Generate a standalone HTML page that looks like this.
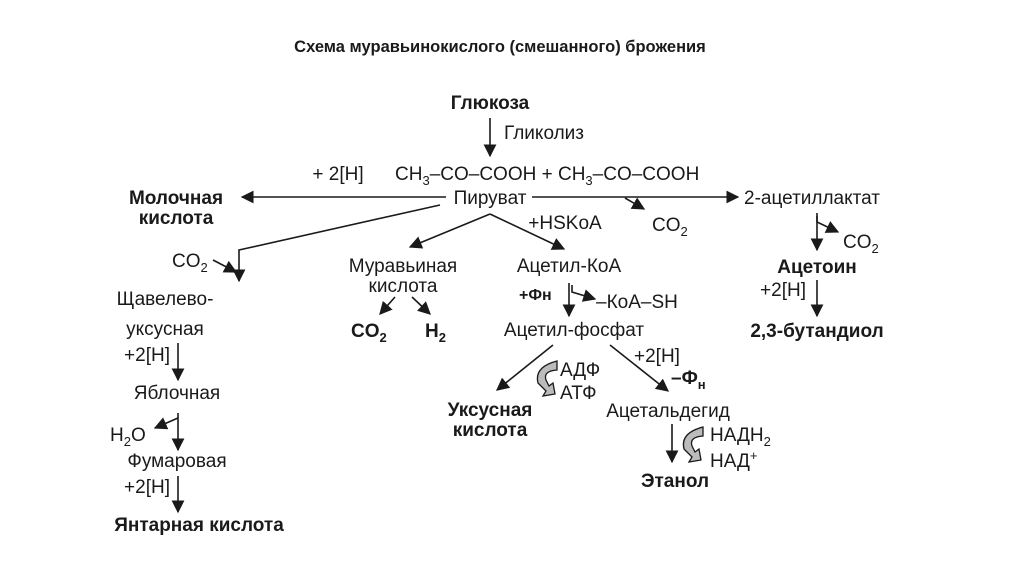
<!DOCTYPE html>
<html><head><meta charset="utf-8"><style>
html,body{margin:0;padding:0;background:#fff;}
svg{display:block;}
text{font-family:"Liberation Sans",Arial,sans-serif;font-size:19px;fill:#1a1a1a;}
.b{font-weight:bold;}
.s{font-size:13px;}
</style></head><body>
<svg width="1024" height="574" viewBox="0 0 1024 574" xmlns="http://www.w3.org/2000/svg">
<defs>
<marker id="A" viewBox="0 0 10 10" refX="9" refY="5" markerWidth="13" markerHeight="13" markerUnits="userSpaceOnUse" orient="auto"><path d="M0,0 L10,5 L0,10 z" fill="#1a1a1a"/></marker>
</defs>
<text x="500" y="52" class="b" text-anchor="middle" style="font-size:16.5px">Схема муравьинокислого (смешанного) брожения</text>

<g stroke="#1a1a1a" stroke-width="1.6" fill="none">
<line x1="490" y1="118" x2="490" y2="156" marker-end="url(#A)"/>
<line x1="446" y1="197" x2="242" y2="197" marker-end="url(#A)"/>
<line x1="532" y1="197" x2="738" y2="197" marker-end="url(#A)"/>
<polyline points="625,198 644,209" marker-end="url(#A)"/>
<polyline points="440,205 239,250 239,281" marker-end="url(#A)"/>
<line x1="213" y1="260" x2="236" y2="272" marker-end="url(#A)"/>
<line x1="490" y1="214" x2="410" y2="247" marker-end="url(#A)"/>
<line x1="490" y1="214" x2="564" y2="249" marker-end="url(#A)"/>
<line x1="395" y1="297" x2="380" y2="314" marker-end="url(#A)"/>
<line x1="412" y1="297" x2="430" y2="314" marker-end="url(#A)"/>
<line x1="569" y1="283" x2="569" y2="316" marker-end="url(#A)"/>
<polyline points="572,285 572,292 595,299" marker-end="url(#A)"/>
<line x1="553" y1="345" x2="497" y2="390" marker-end="url(#A)"/>
<line x1="610" y1="345" x2="668" y2="391" marker-end="url(#A)"/>
<line x1="672" y1="424" x2="672" y2="462" marker-end="url(#A)"/>
<line x1="817" y1="213" x2="817" y2="250" marker-end="url(#A)"/>
<polyline points="817,216 817,222 838,232" marker-end="url(#A)"/>
<line x1="817" y1="280" x2="817" y2="316" marker-end="url(#A)"/>
<line x1="178" y1="343" x2="178" y2="380" marker-end="url(#A)"/>
<line x1="178" y1="413" x2="178" y2="450" marker-end="url(#A)"/>
<line x1="178" y1="418" x2="155" y2="428" marker-end="url(#A)"/>
<line x1="178" y1="476" x2="178" y2="512" marker-end="url(#A)"/>
</g>
<g stroke="#1a1a1a" stroke-width="1.3">
<path d="M557,361 Q534,367 538,383 L546,391 L543,396 L555,394 L553,383 L549,386 L546,380 Q543,371 557,370 Z" fill="#bbb"/>
<path d="M703,427 Q680,433 684,449 L692,457 L689,462 L701,460 L699,449 L695,452 L692,446 Q689,437 703,436 Z" fill="#bbb"/>
</g>

<text x="490" y="109" class="b" text-anchor="middle">Глюкоза</text>
<text x="504" y="139">Гликолиз</text>
<text x="338" y="180" text-anchor="middle">+ 2[H]</text>
<text x="395" y="180">CH<tspan dy="5" class="s">3</tspan><tspan dy="-5">–CO–COOH + CH</tspan><tspan dy="5" class="s">3</tspan><tspan dy="-5">–CO–COOH</tspan></text>
<text x="490" y="204" text-anchor="middle">Пируват</text>
<text x="176" y="204" class="b" text-anchor="middle">Молочная</text>
<text x="176" y="224" class="b" text-anchor="middle">кислота</text>
<text x="565" y="229" text-anchor="middle">+HSKoA</text>
<text x="652" y="231">CO<tspan dy="5" class="s">2</tspan></text>
<text x="744" y="204">2-ацетиллактат</text>
<text x="843" y="248">CO<tspan dy="5" class="s">2</tspan></text>
<text x="817" y="273" class="b" text-anchor="middle">Ацетоин</text>
<text x="806" y="296" text-anchor="end">+2[H]</text>
<text x="817" y="337" class="b" text-anchor="middle">2,3-бутандиол</text>
<text x="172" y="267">CO<tspan dy="5" class="s">2</tspan></text>
<text x="403" y="272" text-anchor="middle">Муравьиная</text>
<text x="403" y="292" text-anchor="middle">кислота</text>
<text x="351" y="337" class="b">CO<tspan dy="5" class="s">2</tspan></text>
<text x="425" y="337" class="b">H<tspan dy="5" class="s">2</tspan></text>
<text x="569" y="272" text-anchor="middle">Ацетил-КоА</text>
<text x="519" y="300" class="b" style="font-size:16px">+Фн</text>
<text x="596" y="308">–КоА–SH</text>
<text x="574" y="336" text-anchor="middle">Ацетил-фосфат</text>
<text x="634" y="362">+2[H]</text>
<text x="560" y="376">АДФ</text>
<text x="560" y="399">АТФ</text>
<text x="671" y="384" class="b">–Ф<tspan dy="5" class="s">н</tspan></text>
<text x="490" y="416" class="b" text-anchor="middle">Уксусная</text>
<text x="490" y="436" class="b" text-anchor="middle">кислота</text>
<text x="668" y="417" text-anchor="middle">Ацетальдегид</text>
<text x="710" y="441">НАДН<tspan dy="5" class="s">2</tspan></text>
<text x="710" y="467">НАД<tspan dy="-7" class="s">+</tspan></text>
<text x="675" y="487" class="b" text-anchor="middle">Этанол</text>
<text x="165" y="305" text-anchor="middle">Щавелево-</text>
<text x="165" y="335" text-anchor="middle">уксусная</text>
<text x="170" y="361" text-anchor="end">+2[H]</text>
<text x="177" y="399" text-anchor="middle">Яблочная</text>
<text x="110" y="441">H<tspan dy="5" class="s">2</tspan><tspan dy="-5">O</tspan></text>
<text x="177" y="467" text-anchor="middle">Фумаровая</text>
<text x="170" y="493" text-anchor="end">+2[H]</text>
<text x="199" y="531" class="b" text-anchor="middle">Янтарная кислота</text>
</svg>
</body></html>
